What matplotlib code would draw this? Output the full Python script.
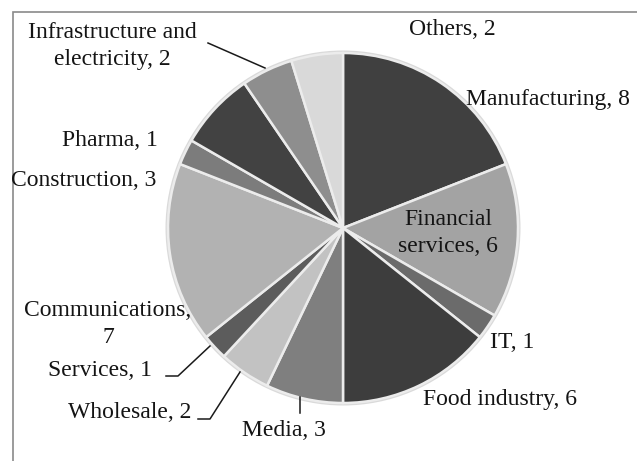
import matplotlib
matplotlib.use("Agg")
import matplotlib.pyplot as plt
from matplotlib.patches import Rectangle

# sectors, clockwise from 12 o'clock
sectors = ["Manufacturing", "Financial services", "IT", "Food industry", "Media",
           "Wholesale", "Services", "Communications", "Pharma", "Construction",
           "Infrastructure and electricity", "Others"]
counts = [8, 6, 1, 6, 3, 2, 1, 7, 1, 3, 2, 2]
shades = ["#404040", "#a3a3a3", "#6b6b6b", "#3d3d3d", "#7f7f7f", "#c2c2c2",
          "#5c5c5c", "#b2b2b2", "#7c7c7c", "#424242", "#8e8e8e", "#d9d9d9"]

W, H = 637, 461


def px(x, y):
    # pixel position in the picture -> data coords (y up)
    return x, H - y


fig = plt.figure(figsize=(W / 100, H / 100), dpi=100)
ax = fig.add_axes([0, 0, 1, 1])

# chart area frame (only left and top edges visible)
ax.add_patch(Rectangle(px(13, 470), 700, 458, fill=False, edgecolor="#8a8a8a", lw=1.2))

# soft outline behind the pie
ax.pie([1], colors=["#dadada"], radius=177.5, center=px(343, 228), startangle=90,
       wedgeprops=dict(linewidth=0))
ax.pie(counts, colors=shades, radius=175, center=px(343, 228), startangle=90,
       counterclock=False, wedgeprops=dict(edgecolor="#ececec", linewidth=1.8))
ax.set_xlim(0, W)
ax.set_ylim(0, H)
ax.set_aspect("equal")
ax.axis("off")

font = dict(family=["Liberation Serif", "DejaVu Serif"], fontsize=17, color="#141414")

labels = {
    "Manufacturing": ("Manufacturing, 8", 548, 100),
    "Financial services": ("Financial\nservices, 6", 448, 233),
    "IT": ("IT, 1", 512, 343),
    "Food industry": ("Food industry, 6", 500, 400),
    "Media": ("Media, 3", 284, 430),
    "Wholesale": ("Wholesale, 2", 130, 413),
    "Services": ("Services, 1", 100, 370),
    "Communications": ("Communications,\n7", 108, 324),
    "Pharma": ("Pharma, 1", 110, 140),
    "Construction": ("Construction, 3", 84, 180),
    "Infrastructure and electricity": ("Infrastructure and\nelectricity, 2", 112, 46),
    "Others": ("Others, 2", 452, 30),
}
for name, val in zip(sectors, counts):
    txt, x, y = labels[name]
    ax.text(*px(x, y), txt, ha="center", va="center", linespacing=1.38, **font)

# leader lines
leaders = [
    [(208, 43), (265, 68)],
    [(300, 397), (300, 413)],
    [(198, 419), (210, 419), (240, 372)],
    [(166, 376), (178, 376), (210, 346)],
]
for pts in leaders:
    xs = [p[0] for p in pts]
    ys = [H - p[1] for p in pts]
    ax.plot(xs, ys, color="#1a1a1a", lw=1.1)

fig.savefig("out.png", dpi=100)
